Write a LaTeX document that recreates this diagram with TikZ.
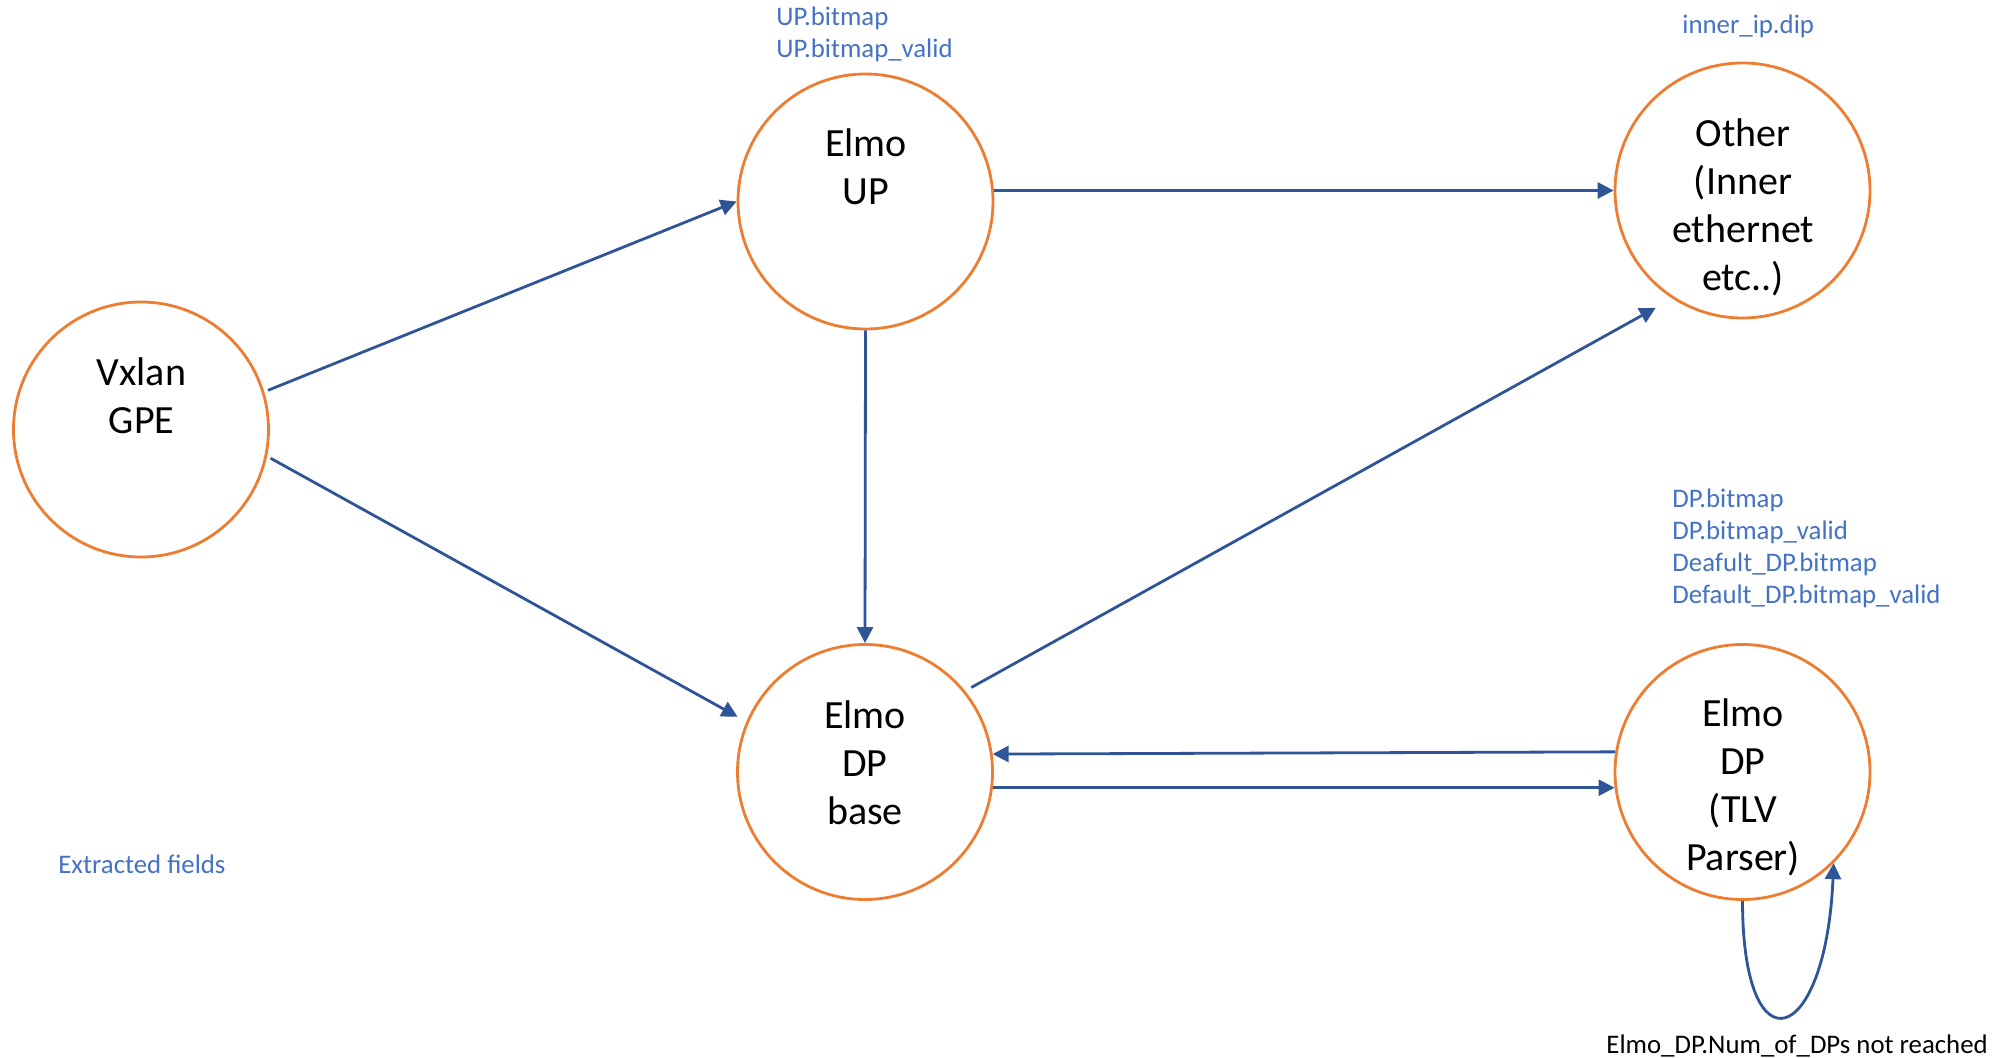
\documentclass[tikz,border=0pt]{standalone}
\usepackage{fontspec}
\setmainfont{Carlito}
\usetikzlibrary{arrows.meta}
\definecolor{orng}{HTML}{ED7D31}
\definecolor{arrblue}{HTML}{2F5597}
\definecolor{txtblue}{HTML}{4472C4}
\begin{document}
\begin{tikzpicture}[x=0.5pt,y=-0.5pt,
  state/.style={circle,draw=orng,line width=1.4pt,minimum size=127.5pt,inner sep=0pt},
  stxt/.style={font=\fontsize{20}{24}\selectfont,align=center,inner sep=0pt},
  fld/.style={font=\fontsize{13.4}{16}\selectfont,text=txtblue,align=left,inner sep=0pt,anchor=west},
  note/.style={font=\fontsize{13.4}{16}\selectfont,text=black,inner sep=0pt,anchor=west},
  flow/.style={draw=arrblue,line width=1.4pt,-{Triangle[length=8pt,width=8pt]}}]
\useasboundingbox[fill=white] (0,0) rectangle (2000,1058);

% states
\node[state] (vx) at (141,429.5) {};
\node[state] (up) at (865.5,201.5) {};
\node[state] (ot) at (1742.5,190.5) {};
\node[state] (db) at (865,772) {};
\node[state] (tl) at (1742.5,772) {};

% state texts
\node[stxt] (vxt) at (141.5,400) {Vxlan\strut\\GPE\strut};
\node[stxt] (upt) at (866,171) {Elmo\strut\\UP\strut};
\node[stxt] (ott) at (1743,208.5) {Other\strut\\(Inner\\ethernet\\etc..)\strut};
\node[stxt] (dbt) at (865,766.5) {Elmo\strut\\DP\\base\strut};
\node[stxt] (tlt) at (1743,789) {Elmo\strut\\DP\\(TLV\\Parser)\strut};

% extracted fields
\node[fld] (upf) at (776,35) {UP.bitmap\strut\\UP.bitmap\_valid\strut};
\node[fld] (otf) at (1682,27) {inner\_ip.dip\strut};
\node[fld] (tlf) at (1672,549) {DP.bitmap\strut\\DP.bitmap\_valid\\Deafult\_DP.bitmap\\Default\_DP.bitmap\_valid\strut};
\node[fld] (leg) at (58,867.5) {Extracted fields\strut};
\node[note] (loopl) at (1606,1047) {Elmo\_DP.Num\_of\_DPs not reached\strut};

% connectors
\draw[flow,shorten <=2pt] (vx.17) -- (up.west);
\draw[flow,shorten <=2pt,shorten >=5pt] (vx.-12) -- (db.157);
\draw[flow] (up.east |- ot.west) -- (ot.west);
\draw[flow] (up.south) -- (db.north);
\draw[flow,shorten <=3.5pt,shorten >=9.5pt] (db.39) -- (ot.237);
\draw[flow] (tl.171.2) -- (db.8.8);
\draw[flow] (db.-7.2) -- (tl.187.2);
\draw[flow] (tl.south) .. controls +(0,172) and +(-8,185) .. (tl.-45);
\end{tikzpicture}
\end{document}
